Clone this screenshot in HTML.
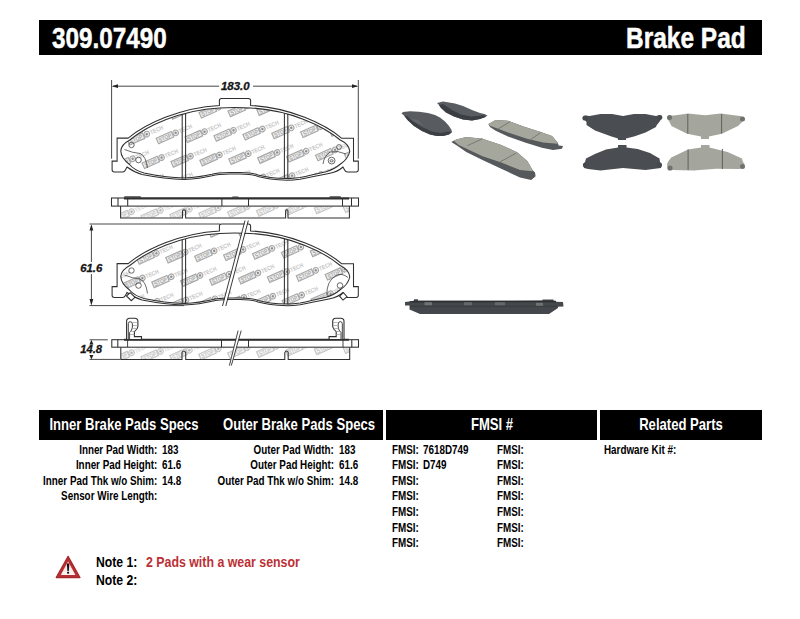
<!DOCTYPE html>
<html><head><meta charset="utf-8"><style>
html,body{margin:0;padding:0;background:#fff;}
body{width:800px;height:619px;position:relative;overflow:hidden;font-family:"Liberation Sans", sans-serif;}
.bar{position:absolute;background:#000;}
.t{position:absolute;white-space:nowrap;font-weight:bold;}
svg.d{position:absolute;left:0;top:0;}
</style></head><body>
<svg class="d" width="800" height="619" viewBox="0 0 800 619">
<defs>
  <g id="wmu" transform="rotate(-24)">
    <rect x="0" y="-3" width="16.5" height="6" fill="#f0f0f0" stroke="#a8a8a8" stroke-width="1.2"/>
    <text x="1.5" y="2.2" font-family="Liberation Sans" font-weight="bold" font-size="6" fill="#a9a9a9" textLength="13.5" lengthAdjust="spacingAndGlyphs">STOP</text>
    <circle cx="20" cy="0" r="2.8" fill="#ececec" stroke="#a4a4a4" stroke-width="1.1"/>
    <circle cx="20" cy="0" r="1.2" fill="#8c8c8c"/>
    <text x="23.6" y="2.2" font-family="Liberation Sans" font-weight="bold" font-size="6" fill="#c4c4c4" textLength="14" lengthAdjust="spacingAndGlyphs">TECH</text>
  </g>
  <path id="face" d="M117.1,138.1 L128.2,138.1 C145,124 180,107.5 219.4,105.4 L219.4,100.6 Q219.4,98.4 221.6,98.4 L248.4,98.4 Q250.6,98.4 250.6,100.6 L250.6,105.4 C290,107.5 325,124 341.8,138.3 L353.5,138.3 L353.5,161.1 L358.3,161.1 L358.3,169.8 Q358.3,172 356.1,172 L347.5,172 Q345.5,172 344.6,170 L343,167 Q338,171.5 330,173.3 Q312,177 300,179.2 Q293,180.2 287.5,180.2 Q268,179.5 258,176.5 Q252,174 240,174 L230,174 Q218,174 212,175.8 Q200,178.8 184,179.6 Q165,179 142,174.5 Q133,171.5 127,167 L125.4,170 Q124.5,172 122.5,172 L114.3,172 Q112.1,172 112.1,169.8 L112.1,161.1 L117.1,161.1 Z"/>
  <path id="fric" d="M120.8,151 Q121.2,144.5 129.8,140 C146.6,125.9 180.1,110 219.5,107.9 Q235,107.1 250.5,107.9 C289.9,110 323.4,125.9 340.2,140 Q349,144 349.8,151.5 Q348,159 340.5,164 Q334,169.5 326,171.8 Q310,175.5 300,177.6 Q293,178.6 287.5,178.6 Q268,178 258,175 Q252,172.5 240,172.5 L230,172.5 Q218,172.5 212,174.3 Q200,177.2 184,178 Q165,177.5 144,173 Q134,170 129.5,164.5 Q121,158 120.8,151 Z"/>
  <clipPath id="cf1"><use href="#fric"/></clipPath>
  <clipPath id="cf2"><path transform="translate(0,125.5)" d="M120.8,151 Q121.2,144.5 129.8,140 C146.6,125.9 180.1,110 219.5,107.9 Q235,107.1 250.5,107.9 C289.9,110 323.4,125.9 340.2,140 Q349,144 349.8,151.5 Q348,159 340.5,164 Q334,169.5 326,171.8 Q310,175.5 300,177.6 Q293,178.6 287.5,178.6 Q268,178 258,175 Q252,172.5 240,172.5 L230,172.5 Q218,172.5 212,174.3 Q200,177.2 184,178 Q165,177.5 144,173 Q134,170 129.5,164.5 Q121,158 120.8,151 Z"/></clipPath>
  <clipPath id="cs1"><rect x="121" y="206.5" width="228" height="11"/></clipPath>
  <clipPath id="cs2"><rect x="121" y="347.7" width="228.5" height="11.3"/></clipPath>
</defs>

<!-- watermarks -->
<g clip-path="url(#cf1)" opacity="1">
<use href="#wmu" x="98.8" y="95.6"/>
<use href="#wmu" x="127.7" y="94.3"/>
<use href="#wmu" x="156.6" y="93.1"/>
<use href="#wmu" x="185.5" y="91.8"/>
<use href="#wmu" x="214.4" y="90.5"/>
<use href="#wmu" x="243.3" y="89.3"/>
<use href="#wmu" x="84.8" y="120.2"/>
<use href="#wmu" x="113.7" y="119.0"/>
<use href="#wmu" x="142.5" y="117.7"/>
<use href="#wmu" x="171.4" y="116.4"/>
<use href="#wmu" x="200.3" y="115.2"/>
<use href="#wmu" x="229.2" y="113.9"/>
<use href="#wmu" x="258.1" y="112.6"/>
<use href="#wmu" x="287.0" y="111.3"/>
<use href="#wmu" x="315.9" y="110.1"/>
<use href="#wmu" x="344.8" y="108.8"/>
<use href="#wmu" x="99.6" y="143.6"/>
<use href="#wmu" x="128.5" y="142.3"/>
<use href="#wmu" x="157.4" y="141.0"/>
<use href="#wmu" x="186.3" y="139.8"/>
<use href="#wmu" x="215.2" y="138.5"/>
<use href="#wmu" x="244.1" y="137.2"/>
<use href="#wmu" x="273.0" y="136.0"/>
<use href="#wmu" x="301.9" y="134.7"/>
<use href="#wmu" x="330.8" y="133.4"/>
<use href="#wmu" x="359.7" y="132.2"/>
<use href="#wmu" x="85.5" y="168.2"/>
<use href="#wmu" x="114.4" y="166.9"/>
<use href="#wmu" x="143.3" y="165.7"/>
<use href="#wmu" x="172.2" y="164.4"/>
<use href="#wmu" x="201.1" y="163.1"/>
<use href="#wmu" x="230.0" y="161.8"/>
<use href="#wmu" x="258.9" y="160.6"/>
<use href="#wmu" x="287.9" y="159.3"/>
<use href="#wmu" x="316.8" y="158.0"/>
<use href="#wmu" x="345.6" y="156.8"/>
<use href="#wmu" x="100.4" y="191.6"/>
<use href="#wmu" x="129.3" y="190.3"/>
<use href="#wmu" x="158.2" y="189.0"/>
<use href="#wmu" x="187.1" y="187.7"/>
<use href="#wmu" x="216.0" y="186.5"/>
<use href="#wmu" x="244.9" y="185.2"/>
<use href="#wmu" x="273.8" y="183.9"/>
<use href="#wmu" x="302.7" y="182.7"/>
<use href="#wmu" x="331.6" y="181.4"/>
<use href="#wmu" x="360.5" y="180.1"/>
<use href="#wmu" x="346.4" y="204.7"/>
</g>
<g clip-path="url(#cf2)" opacity="1">
<use href="#wmu" x="79.5" y="216.1"/>
<use href="#wmu" x="108.4" y="214.8"/>
<use href="#wmu" x="94.4" y="239.5"/>
<use href="#wmu" x="123.3" y="238.2"/>
<use href="#wmu" x="152.2" y="236.9"/>
<use href="#wmu" x="181.1" y="235.7"/>
<use href="#wmu" x="210.0" y="234.4"/>
<use href="#wmu" x="238.8" y="233.1"/>
<use href="#wmu" x="267.8" y="231.8"/>
<use href="#wmu" x="296.6" y="230.6"/>
<use href="#wmu" x="325.5" y="229.3"/>
<use href="#wmu" x="354.4" y="228.0"/>
<use href="#wmu" x="80.3" y="264.1"/>
<use href="#wmu" x="109.2" y="262.8"/>
<use href="#wmu" x="138.1" y="261.5"/>
<use href="#wmu" x="167.0" y="260.3"/>
<use href="#wmu" x="195.9" y="259.0"/>
<use href="#wmu" x="224.8" y="257.7"/>
<use href="#wmu" x="253.7" y="256.5"/>
<use href="#wmu" x="282.6" y="255.2"/>
<use href="#wmu" x="311.5" y="253.9"/>
<use href="#wmu" x="340.4" y="252.7"/>
<use href="#wmu" x="369.3" y="251.4"/>
<use href="#wmu" x="95.2" y="287.4"/>
<use href="#wmu" x="124.1" y="286.2"/>
<use href="#wmu" x="153.0" y="284.9"/>
<use href="#wmu" x="181.8" y="283.6"/>
<use href="#wmu" x="210.8" y="282.4"/>
<use href="#wmu" x="239.7" y="281.1"/>
<use href="#wmu" x="268.6" y="279.8"/>
<use href="#wmu" x="297.5" y="278.5"/>
<use href="#wmu" x="326.4" y="277.3"/>
<use href="#wmu" x="355.2" y="276.0"/>
<use href="#wmu" x="81.1" y="312.1"/>
<use href="#wmu" x="110.0" y="310.8"/>
<use href="#wmu" x="138.9" y="309.5"/>
<use href="#wmu" x="167.8" y="308.2"/>
<use href="#wmu" x="196.7" y="307.0"/>
<use href="#wmu" x="225.6" y="305.7"/>
<use href="#wmu" x="254.5" y="304.4"/>
<use href="#wmu" x="283.4" y="303.2"/>
<use href="#wmu" x="312.3" y="301.9"/>
<use href="#wmu" x="341.2" y="300.6"/>
<use href="#wmu" x="240.4" y="329.1"/>
<use href="#wmu" x="269.4" y="327.8"/>
<use href="#wmu" x="298.2" y="326.5"/>
<use href="#wmu" x="327.2" y="325.2"/>
<use href="#wmu" x="356.1" y="324.0"/>
</g>
<g clip-path="url(#cs1)" opacity="0.65">
<use href="#wmu" x="98.5" y="196.5"/>
<use href="#wmu" x="127.3" y="195.2"/>
<use href="#wmu" x="156.2" y="193.9"/>
<use href="#wmu" x="185.2" y="192.7"/>
<use href="#wmu" x="214.1" y="191.4"/>
<use href="#wmu" x="243.0" y="190.1"/>
<use href="#wmu" x="84.4" y="221.1"/>
<use href="#wmu" x="113.3" y="219.8"/>
<use href="#wmu" x="142.2" y="218.5"/>
<use href="#wmu" x="171.1" y="217.3"/>
<use href="#wmu" x="200.0" y="216.0"/>
<use href="#wmu" x="228.9" y="214.7"/>
<use href="#wmu" x="257.8" y="213.5"/>
<use href="#wmu" x="286.7" y="212.2"/>
<use href="#wmu" x="315.6" y="210.9"/>
<use href="#wmu" x="344.5" y="209.7"/>
<use href="#wmu" x="99.2" y="244.4"/>
<use href="#wmu" x="128.2" y="243.2"/>
<use href="#wmu" x="157.0" y="241.9"/>
<use href="#wmu" x="185.9" y="240.6"/>
<use href="#wmu" x="214.8" y="239.3"/>
<use href="#wmu" x="243.8" y="238.1"/>
<use href="#wmu" x="272.7" y="236.8"/>
<use href="#wmu" x="301.6" y="235.5"/>
<use href="#wmu" x="330.5" y="234.3"/>
<use href="#wmu" x="359.4" y="233.0"/>
</g>
<g clip-path="url(#cs2)" opacity="0.65">
<use href="#wmu" x="98.5" y="337.5"/>
<use href="#wmu" x="127.3" y="336.2"/>
<use href="#wmu" x="156.2" y="334.9"/>
<use href="#wmu" x="185.2" y="333.6"/>
<use href="#wmu" x="214.1" y="332.4"/>
<use href="#wmu" x="243.0" y="331.1"/>
<use href="#wmu" x="84.4" y="362.1"/>
<use href="#wmu" x="113.3" y="360.8"/>
<use href="#wmu" x="142.2" y="359.5"/>
<use href="#wmu" x="171.1" y="358.3"/>
<use href="#wmu" x="200.0" y="357.0"/>
<use href="#wmu" x="228.9" y="355.7"/>
<use href="#wmu" x="257.8" y="354.5"/>
<use href="#wmu" x="286.7" y="353.2"/>
<use href="#wmu" x="315.6" y="351.9"/>
<use href="#wmu" x="344.5" y="350.6"/>
<use href="#wmu" x="99.2" y="385.4"/>
<use href="#wmu" x="128.2" y="384.2"/>
<use href="#wmu" x="157.0" y="382.9"/>
<use href="#wmu" x="185.9" y="381.6"/>
<use href="#wmu" x="214.8" y="380.4"/>
<use href="#wmu" x="243.8" y="379.1"/>
<use href="#wmu" x="272.7" y="377.8"/>
<use href="#wmu" x="301.6" y="376.5"/>
<use href="#wmu" x="330.5" y="375.3"/>
<use href="#wmu" x="359.4" y="374.0"/>
</g>

<g fill="none" stroke="#2f2f2f" stroke-width="1.05">
  <!-- ===== Drawing 1 : top view ===== -->
  <use href="#face"/>
  <use href="#fric"/>
  <line x1="182.2" y1="114" x2="182.2" y2="178.8"/>
  <line x1="185.6" y1="113.5" x2="185.6" y2="178.8"/>
  <line x1="284.4" y1="113.5" x2="284.4" y2="178.8"/>
  <line x1="287.8" y1="114" x2="287.8" y2="178.8"/>
  <g stroke="#444" stroke-width="0.8">
    <circle cx="131.5" cy="145" r="2.7"/>
    <path d="M124.5,149.5 Q133,153 140,153.5 Q146,156 147.5,168"/>
    <circle cx="138.5" cy="160" r="2.8"/>
    <circle cx="339" cy="147" r="2.4"/>
    <circle cx="331.6" cy="160.6" r="3.4"/>
    <ellipse cx="331.6" cy="160.8" rx="1.6" ry="1.1"/>
    <path d="M323,164 Q324,156 330,152 Q337,150 346,154"/>
  </g>
  <!-- dimension 183 -->
  <g stroke="#333" stroke-width="0.9">
    <line x1="111.6" y1="80" x2="111.6" y2="158.7"/>
    <line x1="358.3" y1="80" x2="358.3" y2="158.7"/>
    <line x1="113" y1="86.2" x2="219.4" y2="86.2"/>
    <line x1="253" y1="86.2" x2="357" y2="86.2"/>
  </g>
  <path d="M111.8,86.2 L118,84.3 L118,88.1 Z M358.1,86.2 L352,84.3 L352,88.1 Z" fill="#222" stroke="none"/>

  <!-- ===== Side view 1 ===== -->
  <path d="M120.6,206 L120.6,218 L182.5,218 L182.5,211 Q184,208.6 185.6,211 L185.6,218 L285.6,218 L285.6,211 Q286.8,208.6 288,211 L288,218 L349.4,218 L349.4,206"/>
  <rect x="111.5" y="198" width="247" height="8.1"/>
  <line x1="118" y1="198" x2="118" y2="206"/>
  <line x1="127.7" y1="198" x2="127.7" y2="206"/>
  <line x1="221.9" y1="198" x2="221.9" y2="206"/>
  <line x1="248.5" y1="198" x2="248.5" y2="206"/>
  <line x1="342.5" y1="198" x2="342.5" y2="206"/>
  <line x1="351.5" y1="198" x2="351.5" y2="206"/>
  <line x1="124" y1="198.4" x2="349" y2="198.4" stroke-width="2"/>
  <rect x="124" y="196.3" width="17" height="1.8" rx="0.9" fill="#444" stroke="none"/>
  <rect x="232" y="196.5" width="6.8" height="1.8" rx="0.9" fill="#444" stroke="none"/>
  <rect x="329.4" y="196.3" width="11.6" height="1.8" rx="0.9" fill="#444" stroke="none"/>

  <!-- ===== Drawing 2 : top view ===== -->
  <g transform="translate(0,125.5)">
    <use href="#face"/>
    <use href="#fric"/>
    <line x1="182.2" y1="114" x2="182.2" y2="178.8"/>
    <line x1="185.6" y1="113.5" x2="185.6" y2="178.8"/>
    <line x1="284.4" y1="113.5" x2="284.4" y2="178.8"/>
    <line x1="287.8" y1="114" x2="287.8" y2="178.8"/>
    <g stroke="#444" stroke-width="0.8">
      <circle cx="131.5" cy="145" r="2.7"/>
      <path d="M124.5,149.5 Q133,153 140,153.5 Q146,156 147.5,168"/>
      <circle cx="138.5" cy="160" r="2.8"/>
      <circle cx="340" cy="160" r="2.8"/>
      <path d="M327,170 Q326,156 336,150 Q342,147 348,152"/>
    </g>
    <!-- sensor clips -->
    <path d="M126.5,170.5 L130.2,167.2 L135,171.8 L131.3,175.2 Z" fill="#fff"/>
    <path d="M343.5,167.2 L339.6,170.7 L343,174.6 L347,171.2 Z" fill="#fff"/>
  </g>
  <!-- break lines drawing 2 -->
  <line x1="246.6" y1="221" x2="224.1" y2="306" stroke="#fff" stroke-width="2.6"/>
  <g stroke="#222" stroke-width="0.9">
    <line x1="245" y1="220.5" x2="222.5" y2="306"/>
    <line x1="248.3" y1="220.5" x2="225.8" y2="306"/>
  </g>
  <!-- dimension 61.6 -->
  <g stroke="#333" stroke-width="0.9">
    <line x1="89.5" y1="224" x2="220" y2="224"/>
    <line x1="89.5" y1="305.6" x2="184" y2="305.6"/>
    <line x1="91.4" y1="226" x2="91.4" y2="262"/>
    <line x1="91.4" y1="274" x2="91.4" y2="303.6"/>
  </g>
  <path d="M91.4,224.2 L89.5,230.5 L93.3,230.5 Z M91.4,305.4 L89.5,299 L93.3,299 Z" fill="#222" stroke="none"/>

  <!-- ===== Side view 2 ===== -->
  <path d="M120.8,347.2 L120.8,359.5 L182,359.5 L182,352.5 Q183.8,349.6 185.7,352.5 L185.7,359.5 L284.8,359.5 L284.8,352.5 Q286.5,349.6 288.2,352.5 L288.2,359.5 L349.7,359.5 L349.7,347.2"/>
  <rect x="111.8" y="339.7" width="246.7" height="7.5" fill="#fff"/>
  <line x1="117.8" y1="339.7" x2="117.8" y2="347.2"/>
  <line x1="221.5" y1="339.7" x2="221.5" y2="347.2"/>
  <line x1="248.5" y1="339.7" x2="248.5" y2="347.2"/>
  <line x1="351.8" y1="339.7" x2="351.8" y2="347.2"/>
  <line x1="124" y1="339.8" x2="349" y2="339.8" stroke-width="2"/>
  <!-- clips -->
  <g id="clipL">
    <path d="M126.6,339.5 L126.6,321.5 Q126.6,318.3 129.8,318.3 L134.8,318.3 Q137.9,318.3 137.9,321.5 L137.9,326.5 Q137.6,329.3 134.4,331.6 L134.4,336.6 L141.5,336.6 L141.5,339.5 Z" fill="#fff" stroke-width="1.1"/>
    <path d="M128.3,339 L128.3,323.6 Q128.3,321.7 130.3,321.7 Q132.4,321.7 132.4,324 L132.4,327 Q132.2,330.2 129.6,332.6 L129.6,339" stroke-width="0.9"/>
    <path d="M133,322.5 L137.5,322.5 M133,325.5 L137.8,325.5 M132,328.5 L137,328.5 M130,331.5 L134.5,331.5 M130,334.5 L134.4,334.5" stroke="#9a9a9a" stroke-width="0.7"/>
    <line x1="127.6" y1="339.5" x2="127.6" y2="347.2" stroke-width="0.9"/>
  </g>
  <use href="#clipL" transform="translate(470.6,0) scale(-1,1)"/>
  <!-- break lines side 2 -->
  <line x1="239.7" y1="331" x2="230.3" y2="365.5" stroke="#fff" stroke-width="2.6"/>
  <line x1="238.1" y1="330.6" x2="229.4" y2="365.6" stroke-width="0.9"/>
  <line x1="241.2" y1="330.6" x2="231.3" y2="365.6" stroke-width="0.9"/>
  <!-- dimension 14.8 -->
  <g stroke="#333" stroke-width="0.9">
    <line x1="89.5" y1="339.8" x2="107.8" y2="339.8"/>
    <line x1="89.5" y1="359.4" x2="120" y2="359.4"/>
    
  </g>
  <path d="M91.4,339.8 L89.4,344.5 L93.4,344.5 Z M91.4,359.4 L89.4,355 L93.4,355 Z" fill="#222" stroke="none"/>
</g>

<!-- dimension texts -->
<g font-family="Liberation Sans" font-weight="bold" font-style="italic" fill="#151515" stroke="#151515" stroke-width="0.3">
  <rect x="219.5" y="80" width="33" height="12" fill="#fff" stroke="none"/>
  <text x="221" y="89.6" font-size="10.2" textLength="28.6" lengthAdjust="spacingAndGlyphs">183.0</text>
  <text x="80.2" y="271.7" font-size="10.2" textLength="22" lengthAdjust="spacingAndGlyphs">61.6</text>
  <text x="80.2" y="353.2" font-size="10.2" textLength="21.8" lengthAdjust="spacingAndGlyphs">14.8</text>
</g>

<!-- ===== photos ===== -->
<g stroke="none">
  <!-- pad A dark -->
  <path d="M401.5,113.5 L403,112 L410,111.3 L419,111.8 L428,113 L435,115 L440,117.5 L445,121.5 L449,126 L451.5,130 L452,132 L449,134.5 L443,136 L437,136 L430,134.5 L422,131 L414,126 L407.5,120 L404,115.5 Z" fill="#585c61"/>
  <path d="M404,115.5 L407.5,120 L414,126 L422,131 L430,134.5 L437,136 L443,136 L449,134.5 L452,132 L448,131.5 L441,133 L432,131.5 L423,127.5 L414,122 L407,116 Z" fill="#3c3f43"/>
  <path d="M409,118 L416,122.5 L424,126 L418,120 Z" fill="#6a6d71" opacity="0.6"/>
  <!-- pad B dark -->
  <path d="M437,103 L443,101.5 L455,103.5 L463,106 L472,110 L480,113 L484.5,114 L487.5,115.5 L485.5,117 L480,119 L472,120.5 L463,119.5 L454,116.5 L446,112.5 L441,108 L439,105 Z" fill="#595d62"/>
  <path d="M439,105 L441,108 L446,112.5 L454,116.5 L463,119.5 L472,120.5 L480,119 L485.5,117 L484,115 L478,116 L471,116.5 L461,114.5 L452,110 L443,104 Z" fill="#3b3e42"/>
  <!-- pad C light -->
  <path d="M488.4,124 L495.7,120.1 L508,120.7 L525,126.9 L540.7,132 L552,135.9 L557.6,142.6 L558.7,145.4 L563,146 L562,148.8 L553,150 L541.9,147.7 L525,142.6 L508,136.4 L495.7,130.8 L490,126.9 Z" fill="#56595b"/>
  <path d="M488.4,124 L495.7,120.1 L508,120.7 L525,126.9 L540.7,132 L552,135.9 L557.6,142.6 L557.6,143.7 L543,142.6 L527,138.7 L508,132.5 L490,125.7 Z" fill="#a5a79d"/>
  <path d="M496.9,129.7 L509.8,121.8 M529.5,140.4 L540.7,132.5" stroke="#72746e" stroke-width="0.9"/>
  <!-- pad D light -->
  <path d="M451.25,141.9 L456.25,139.4 L466.25,136.9 L482.5,138.75 L501.25,145 L517.5,152.5 L527.5,161.25 L532.5,170 L535,172.5 L535.6,176.25 L531.25,180 L520,177.5 L501.25,168.75 L482.5,160 L466.25,151.9 L456.9,145.6 Z" fill="#56595b"/>
  <path d="M456.25,139.4 L466.25,136.9 L482.5,138.75 L501.25,145 L517.5,152.5 L527.5,161.25 L532.5,170 L532.5,171.25 L520,170 L501.25,162.5 L482.5,156.25 L458.75,145 L454,141 Z" fill="#a5a79d"/>
  <path d="M467.5,145.6 L482.5,138.75 M500,161.9 L516.25,153.1" stroke="#72746e" stroke-width="0.9"/>

  <!-- photo 2: top-left dark -->
  <path d="M583,118 L585.5,115.5 L589.5,116 L600.5,114 L612,114 L623,116 L634,114 L645.5,114 L656,116 L659.5,115 L662,117.5 L660,121 L656.5,125.5 L656,127 L645.5,132.5 L634,136.5 L626,138.5 L626,140 L618,140 L618,138.5 L611.5,136.5 L595,130.5 L586.5,125 L586.5,122 Z" fill="#4a4d51"/>
  <!-- top-right light -->
  <path d="M667,118 L670,115.5 L674,115.5 L688,113.5 L705,115.2 L720.75,113.5 L732,115 L740.5,116 L744,117.5 L742.5,121.5 L738,126 L721.9,133.75 L709,136.5 L709,139 L701,139 L701,136.5 L687,133.75 L671.5,126 L669.5,122 Z" fill="#a4a69e"/>
  <path d="M687.8,114 L687.8,133.5 M721.6,114 L721.6,133.5" stroke="#5f615b" stroke-width="1"/>
  <!-- bottom-left dark -->
  <path d="M618,145 L626.5,145 L626.5,147.5 L637.6,149 L650,153 L659.5,158.5 L660,162 L661.5,164 L661,168 L657,168.5 L645.5,170 L623,168 L600.5,170.5 L588,169 L584,168 L583.5,164 L585,162 L586,158.5 L594.9,154 L606,149.6 L618,147.5 Z" fill="#4a4d51"/>
  <!-- bottom-right light -->
  <path d="M701,145 L709.5,145 L709.5,147.5 L727.5,152 L742,158.5 L743,162 L744.5,164 L744,168 L738.75,169 L716.25,168.75 L693.75,170.5 L672.4,170 L667.5,168 L667,164 L668.5,161 L671.25,157.5 L688,149.6 L701,147.5 Z" fill="#a4a69e"/>
  <path d="M688.1,149.5 L688.1,170 M722.4,149 L722.4,169" stroke="#5f615b" stroke-width="1"/>

  <!-- knobs -->
  <circle cx="585" cy="118" r="2.6" fill="#45484c"/>
  <circle cx="660" cy="117.5" r="2.4" fill="#45484c"/>
  <circle cx="669.5" cy="117.5" r="2.5" fill="#6f716d"/>
  <circle cx="742.5" cy="119" r="2.5" fill="#6f716d"/>
  <circle cx="585.5" cy="165" r="2.6" fill="#45484c"/>
  <circle cx="659.5" cy="165" r="2.5" fill="#45484c"/>
  <circle cx="670" cy="168" r="2.6" fill="#6f716d"/>
  <circle cx="742.5" cy="166.5" r="2.5" fill="#6f716d"/>
  <!-- photo 3: side -->
  <path d="M405,302 L409.5,301.6 L414,300.8 L414,299.3 L418,299.3 L418,300.8 L542.5,300.6 L542.5,299.5 L553.5,299.5 L553.5,300.6 L556,301.8 L563,302 L563.5,306.5 L558,306.8 L558,308 L549,314 L420,314 L409.5,309.5 L409.5,305.6 L405,305.5 Z" fill="#44474b"/>
  <path d="M409.5,301.6 L414,300.8 L556,300.8 L556,302.2 L409.5,302.5 Z" fill="#2c2e31"/>
  <rect x="424.5" y="302.2" width="7.5" height="3.2" fill="#6f7173"/>
  <rect x="464" y="302.2" width="8" height="3.2" fill="#64666a"/>
  <rect x="495" y="302.2" width="10" height="3.2" fill="#64666a"/>
  <rect x="536" y="302.8" width="7" height="3.2" fill="#6f7173"/>
  <path d="M410,306.3 L557,306.3" stroke="#35383b" stroke-width="0.8"/>
</g>

<!-- warning triangle -->
<defs>
  <linearGradient id="tg" x1="0" y1="0" x2="0" y2="1">
    <stop offset="0" stop-color="#f2b9b9"/>
    <stop offset="0.6" stop-color="#fbeaea"/>
    <stop offset="1" stop-color="#fdf3f3"/>
  </linearGradient>
</defs>
<g>
  <path d="M68.1,556.3 L56.2,577.6 L80,577.6 Z" fill="#b52f33" stroke="#a9282c" stroke-width="1.2" stroke-linejoin="round"/>
  <path d="M68.1,561.2 L60.8,575.1 L75.4,575.1 Z" fill="url(#tg)"/>
  <path d="M66.9,563.6 L69.3,563.6 L68.8,571 L67.4,571 Z" fill="#0e0e0e"/>
  <rect x="67.1" y="571.8" width="2" height="1.8" fill="#0e0e0e"/>
</g>
</svg>

<div class="bar" style="left:39px;top:20px;width:723px;height:34.5px"></div>
<div class="t" style="left:51.6px;top:22.84px;font-size:30.2px;line-height:30.2px;transform:scaleX(0.805);transform-origin:0 0;color:#fff;-webkit-text-stroke:0.5px #fff;">309.07490</div>
<div class="t" style="right:54.799999999999955px;top:22.84px;font-size:30.2px;line-height:30.2px;transform:scaleX(0.81);transform-origin:100% 0;color:#fff;-webkit-text-stroke:0.5px #fff;">Brake Pad</div>
<div class="bar" style="left:39px;top:410px;width:344px;height:30px"></div>
<div class="bar" style="left:386px;top:410px;width:211px;height:30px"></div>
<div class="bar" style="left:600px;top:410px;width:162px;height:30px"></div>
<div class="t" style="left:-75.8px;width:400px;text-align:center;top:416.21px;font-size:17px;line-height:17px;transform:scaleX(0.77);transform-origin:50% 0;color:#fff;">Inner Brake Pads Specs</div>
<div class="t" style="left:98.69999999999999px;width:400px;text-align:center;top:416.21px;font-size:17px;line-height:17px;transform:scaleX(0.77);transform-origin:50% 0;color:#fff;">Outer Brake Pads Specs</div>
<div class="t" style="left:292px;width:400px;text-align:center;top:416.21px;font-size:17px;line-height:17px;transform:scaleX(0.77);transform-origin:50% 0;color:#fff;">FMSI #</div>
<div class="t" style="left:481.20000000000005px;width:400px;text-align:center;top:416.21px;font-size:17px;line-height:17px;transform:scaleX(0.77);transform-origin:50% 0;color:#fff;">Related Parts</div>
<div class="t" style="right:642.7px;top:443.64px;font-size:12px;line-height:12px;transform:scaleX(0.82);transform-origin:100% 0;color:#000;">Inner Pad Width:</div>
<div class="t" style="left:161.6px;top:443.64px;font-size:12px;line-height:12px;transform:scaleX(0.82);transform-origin:0 0;color:#000;">183</div>
<div class="t" style="right:642.7px;top:459.24px;font-size:12px;line-height:12px;transform:scaleX(0.82);transform-origin:100% 0;color:#000;">Inner Pad Height:</div>
<div class="t" style="left:161.6px;top:459.24px;font-size:12px;line-height:12px;transform:scaleX(0.82);transform-origin:0 0;color:#000;">61.6</div>
<div class="t" style="right:642.7px;top:474.84px;font-size:12px;line-height:12px;transform:scaleX(0.82);transform-origin:100% 0;color:#000;">Inner Pad Thk w/o Shim:</div>
<div class="t" style="left:161.6px;top:474.84px;font-size:12px;line-height:12px;transform:scaleX(0.82);transform-origin:0 0;color:#000;">14.8</div>
<div class="t" style="right:642.7px;top:490.44px;font-size:12px;line-height:12px;transform:scaleX(0.82);transform-origin:100% 0;color:#000;">Sensor Wire Length:</div>
<div class="t" style="right:465.8px;top:443.64px;font-size:12px;line-height:12px;transform:scaleX(0.82);transform-origin:100% 0;color:#000;">Outer Pad Width:</div>
<div class="t" style="left:338.8px;top:443.64px;font-size:12px;line-height:12px;transform:scaleX(0.82);transform-origin:0 0;color:#000;">183</div>
<div class="t" style="right:465.8px;top:459.24px;font-size:12px;line-height:12px;transform:scaleX(0.82);transform-origin:100% 0;color:#000;">Outer Pad Height:</div>
<div class="t" style="left:338.8px;top:459.24px;font-size:12px;line-height:12px;transform:scaleX(0.82);transform-origin:0 0;color:#000;">61.6</div>
<div class="t" style="right:465.8px;top:474.84px;font-size:12px;line-height:12px;transform:scaleX(0.82);transform-origin:100% 0;color:#000;">Outer Pad Thk w/o Shim:</div>
<div class="t" style="left:338.8px;top:474.84px;font-size:12px;line-height:12px;transform:scaleX(0.82);transform-origin:0 0;color:#000;">14.8</div>
<div class="t" style="left:391.6px;top:443.64px;font-size:12px;line-height:12px;transform:scaleX(0.82);transform-origin:0 0;color:#000;">FMSI:</div>
<div class="t" style="left:422.6px;top:443.64px;font-size:12px;line-height:12px;transform:scaleX(0.82);transform-origin:0 0;color:#000;">7618D749</div>
<div class="t" style="left:497px;top:443.64px;font-size:12px;line-height:12px;transform:scaleX(0.82);transform-origin:0 0;color:#000;">FMSI:</div>
<div class="t" style="left:391.6px;top:459.24px;font-size:12px;line-height:12px;transform:scaleX(0.82);transform-origin:0 0;color:#000;">FMSI:</div>
<div class="t" style="left:422.6px;top:459.24px;font-size:12px;line-height:12px;transform:scaleX(0.82);transform-origin:0 0;color:#000;">D749</div>
<div class="t" style="left:497px;top:459.24px;font-size:12px;line-height:12px;transform:scaleX(0.82);transform-origin:0 0;color:#000;">FMSI:</div>
<div class="t" style="left:391.6px;top:474.84px;font-size:12px;line-height:12px;transform:scaleX(0.82);transform-origin:0 0;color:#000;">FMSI:</div>
<div class="t" style="left:497px;top:474.84px;font-size:12px;line-height:12px;transform:scaleX(0.82);transform-origin:0 0;color:#000;">FMSI:</div>
<div class="t" style="left:391.6px;top:490.44px;font-size:12px;line-height:12px;transform:scaleX(0.82);transform-origin:0 0;color:#000;">FMSI:</div>
<div class="t" style="left:497px;top:490.44px;font-size:12px;line-height:12px;transform:scaleX(0.82);transform-origin:0 0;color:#000;">FMSI:</div>
<div class="t" style="left:391.6px;top:506.04px;font-size:12px;line-height:12px;transform:scaleX(0.82);transform-origin:0 0;color:#000;">FMSI:</div>
<div class="t" style="left:497px;top:506.04px;font-size:12px;line-height:12px;transform:scaleX(0.82);transform-origin:0 0;color:#000;">FMSI:</div>
<div class="t" style="left:391.6px;top:521.64px;font-size:12px;line-height:12px;transform:scaleX(0.82);transform-origin:0 0;color:#000;">FMSI:</div>
<div class="t" style="left:497px;top:521.64px;font-size:12px;line-height:12px;transform:scaleX(0.82);transform-origin:0 0;color:#000;">FMSI:</div>
<div class="t" style="left:391.6px;top:537.34px;font-size:12px;line-height:12px;transform:scaleX(0.82);transform-origin:0 0;color:#000;">FMSI:</div>
<div class="t" style="left:497px;top:537.34px;font-size:12px;line-height:12px;transform:scaleX(0.82);transform-origin:0 0;color:#000;">FMSI:</div>
<div class="t" style="left:603.8px;top:443.64px;font-size:12px;line-height:12px;transform:scaleX(0.82);transform-origin:0 0;color:#000;">Hardware Kit #:</div>
<div class="t" style="left:96.4px;top:554.50px;font-size:14.3px;line-height:14.3px;transform:scaleX(0.854);transform-origin:0 0;color:#000;">Note 1:</div>
<div class="t" style="left:96.4px;top:572.90px;font-size:14.3px;line-height:14.3px;transform:scaleX(0.854);transform-origin:0 0;color:#000;">Note 2:</div>
<div class="t" style="left:145.6px;top:555.30px;font-size:14.3px;line-height:14.3px;transform:scaleX(0.864);transform-origin:0 0;color:#bb3035;">2 Pads with a wear sensor</div>
</body></html>
